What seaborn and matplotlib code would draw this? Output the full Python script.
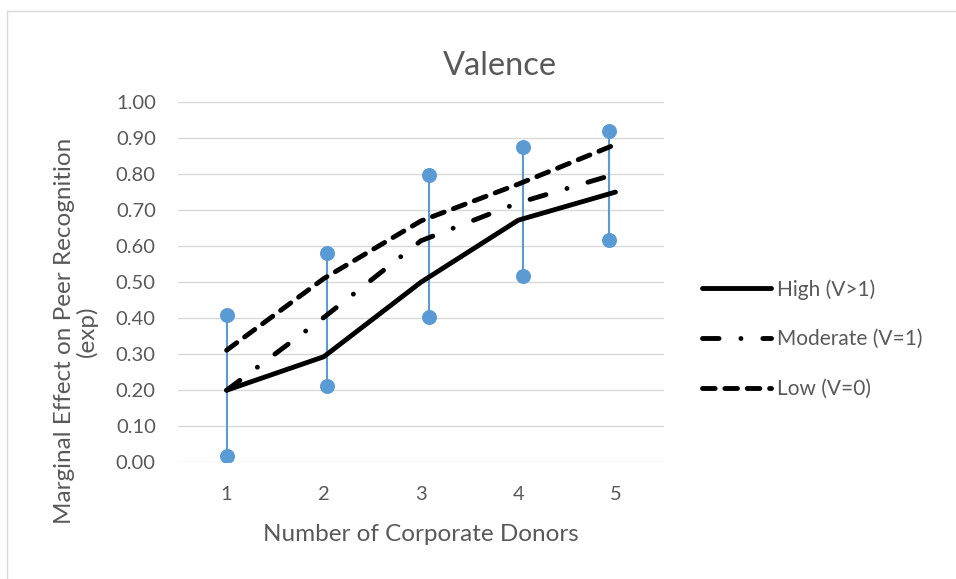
import numpy as np
import pandas as pd
import matplotlib
matplotlib.use("Agg")
import matplotlib.pyplot as plt
import seaborn as sns
from matplotlib.lines import Line2D
from matplotlib.ticker import FormatStrFormatter, MultipleLocator

# ---- values ----
donors = [1, 2, 3, 4, 5]
series = ["High (V>1)", "Moderate (V=1)", "Low (V=0)"]
high = [0.200, 0.293, 0.500, 0.672, 0.750]
moderate = [0.200, 0.402, 0.615, 0.720, 0.800]
low = [0.311, 0.510, 0.670, 0.772, 0.882]

# blue interval bars (sit slightly off the category centres in the original)
bar_x = [1.00, 2.035, 3.085, 4.045, 4.93]
bar_top = [0.408, 0.581, 0.797, 0.875, 0.920]
bar_low = [0.018, 0.212, 0.402, 0.517, 0.617]

GREY = "#595959"
GRID = "#D9D9D9"
BLUE = "#5B9BD5"
LW = 3.5

sns.set_theme(style="white")
plt.rcParams["font.family"] = ["Lato", "DejaVu Sans"]

lines = pd.DataFrame({
    "donors": donors * 3,
    "effect": high + moderate + low,
    "valence": np.repeat(series, len(donors)),
})
bars = pd.DataFrame({
    "x": bar_x * 2,
    "y": bar_low + bar_top,
    "bar": list(range(len(bar_x))) * 2,
})

fig = plt.figure(figsize=(9.56, 5.79), dpi=100)
ax = fig.add_axes([0.1862, 0.2016, 0.5084, 0.6222])

sns.lineplot(data=bars, x="x", y="y", units="bar", estimator=None, sort=False,
             color=BLUE, lw=1.5, marker="o", markersize=10.8, markeredgewidth=0,
             legend=False, ax=ax)

dash_map = {
    "High (V>1)": "",
    "Moderate (V=1)": (3.4, 4.5, 0.01, 4.5),
    "Low (V=0)": (2.6, 2.0),
}
sns.lineplot(data=lines, x="donors", y="effect", hue="valence", style="valence",
             hue_order=series, style_order=series,
             palette={s: "black" for s in series}, dashes=dash_map,
             lw=LW, dash_capstyle="round", solid_capstyle="round", ax=ax)

# legend rebuilt in Excel style, to the right of the plot
leg = ax.get_legend()
handles = leg.legend_handles
labels = [t.get_text() for t in leg.get_texts()]
for h in handles:
    h.set_linewidth(LW)
    h.set_dash_capstyle("round")
    h.set_solid_capstyle("round")
ax.legend(handles, labels, loc="center left", bbox_to_anchor=(702 / 956, 1 - 339 / 579),
          bbox_transform=fig.transFigure, frameon=False, fontsize=15,
          handlelength=3.3, handletextpad=0.3, labelspacing=1.43, borderpad=0,
          borderaxespad=0, labelcolor=GREY)

ax.set_xlim(0.5, 5.5)
ax.set_ylim(0, 1.0)
ax.set_xticks(donors)
ax.yaxis.set_major_locator(MultipleLocator(0.1))
ax.yaxis.set_major_formatter(FormatStrFormatter("%.2f"))
ax.yaxis.grid(True, color=GRID, lw=1.0)
ax.set_axisbelow(True)
sns.despine(ax=ax, left=True, bottom=True)
ax.tick_params(axis="both", length=0, labelsize=14.5, colors=GREY)
ax.tick_params(axis="y", pad=16)
ax.tick_params(axis="x", pad=17)

ax.set_xlabel("Number of Corporate Donors", fontsize=17.5, color=GREY)
ax.xaxis.set_label_coords(0.5, -0.17)
ax.set_ylabel("Marginal Effect on Peer Recognition\n(exp)", fontsize=17.5, color=GREY,
              va="center", linespacing=1.05)
ax.yaxis.set_label_coords(-0.21, 0.364)

fig.text(500 / 956, 1 - 75 / 579, "Valence", ha="center", va="baseline",
         fontsize=23.5, color=GREY)

# thin chart-area border (top and left edges are all that show in the crop)
fig.add_artist(Line2D([7 / 956, 1], [1 - 11 / 579] * 2, transform=fig.transFigure,
                      color=GRID, lw=1.0))
fig.add_artist(Line2D([7 / 956] * 2, [0, 1 - 11 / 579], transform=fig.transFigure,
                      color=GRID, lw=1.0))

fig.savefig("out.png", dpi=100)
